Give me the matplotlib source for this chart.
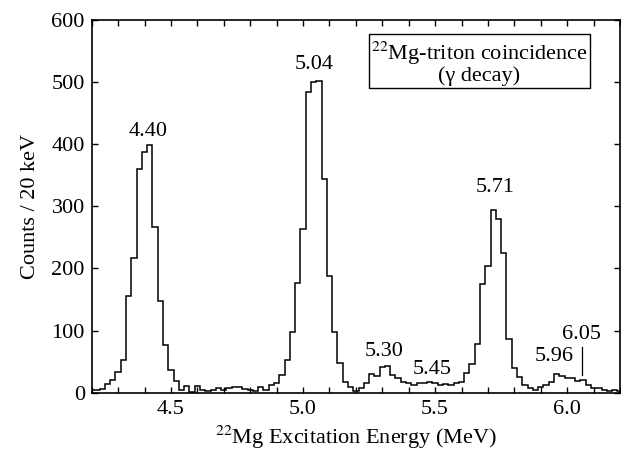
import numpy as np
import matplotlib
matplotlib.use("Agg")
import matplotlib.pyplot as plt
from matplotlib.ticker import MultipleLocator

# ------------------------------------------------------------
# data: counts per 20 keV bin, bin centres 4.20 ... 6.20 MeV
# ------------------------------------------------------------
e_first = 4.20
bin_width = 0.02
counts = [
    4, 4, 6, 14, 20,
    34, 53, 155, 216, 360,
    387, 399, 267, 147, 76,
    36, 19, 5, 10, 1,
    11, 4, 3, 5, 7,
    5, 7, 9, 9, 6,
    4, 3, 9, 5, 12,
    15, 28, 53, 97, 177,
    264, 484, 499, 501, 344,
    187, 98, 48, 17, 9,
    3, 7, 15, 30, 27,
    42, 43, 28, 23, 18,
    15, 12, 16, 15, 18,
    15, 12, 14, 12, 15,
    18, 32, 46, 78, 174,
    204, 294, 280, 225, 86,
    39, 25, 13, 7, 4,
    9, 12, 18, 30, 27,
    24, 23, 19, 21, 13,
    7, 7, 5, 3, 4,
    2,
]

# peak labels (text, x, y)
peak_labels = ["4.40", "5.04", "5.30", "5.45", "5.71", "5.96", "6.05"]
peak_x = [4.412, 5.044, 5.307, 5.49, 5.728, 5.952, 6.055]
peak_y = [420, 527, 66, 38, 330, 58, 94]
marker_x = 6.055
marker_y = [28, 74]

FS = 16

plt.rcParams["font.family"] = ["Liberation Serif", "DejaVu Serif"]
plt.rcParams["mathtext.fontset"] = "stix"

fig = plt.figure(figsize=(6.21, 4.54), dpi=100)
ax = fig.add_axes([0.1477, 0.135, 0.8507, 0.822])

edges = e_first - bin_width / 2 + bin_width * np.arange(len(counts) + 1)
ax.stairs(counts, edges, baseline=None, color="black", linewidth=1.1)

for txt, x, y in zip(peak_labels, peak_x, peak_y):
    ax.text(x, y, txt, ha="center", va="center", fontsize=FS)
ax.plot([marker_x, marker_x], marker_y, color="black", linewidth=0.9)

ax.text(0.734, 0.885, "$^{22}$Mg-triton coincidence\n(\u03b3 decay)",
        transform=ax.transAxes, ha="center", va="center", fontsize=FS,
        multialignment="center", linespacing=0.95,
        bbox=dict(boxstyle="square,pad=0.12", facecolor="white",
                  edgecolor="black", linewidth=1.0))

ax.set_xlim(4.2, 6.2)
ax.set_ylim(0, 600)
ax.xaxis.set_major_locator(MultipleLocator(0.5))
ax.xaxis.set_minor_locator(MultipleLocator(0.1))
ax.yaxis.set_major_locator(MultipleLocator(100))
ax.tick_params(which="both", direction="in", top=True, right=True,
               labelsize=FS, width=1.0, length=4, pad=5)
for s in ax.spines.values():
    s.set_linewidth(1.2)

ax.set_xlabel("$^{22}$Mg Excitation Energy (MeV)", fontsize=FS, labelpad=4)
ax.set_ylabel("Counts / 20 keV", fontsize=FS, labelpad=8)

plt.savefig("out.png", dpi=100)
plt.close()
